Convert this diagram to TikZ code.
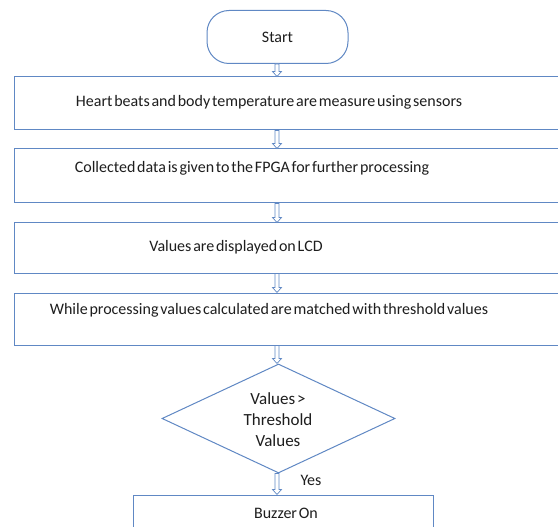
\documentclass[tikz,border=0pt]{standalone}
\usepackage{fontspec}
\setmainfont{Carlito}[WordSpace=0.5]
\usetikzlibrary{shapes.geometric,calc}
\definecolor{edge}{RGB}{96,136,196}
\definecolor{ink}{RGB}{30,30,30}
\tikzset{
  box/.style={draw=edge, line width=1pt, rectangle, inner sep=0pt},
  txt/.style={text=ink, font=\fontsize{16}{20}\selectfont, inner sep=0pt, align=center},
  harrow/.style={draw=edge, line width=0.7pt, fill=white},
}
\newcommand{\hollowarrow}[2]{%
  \path[harrow] let \p1=(#1), \p2=(#2) in
    (\x1-2pt,\y1) -- (\x1+2pt,\y1) -- (\x1+2pt,\y2+5pt) -- (\x1+4.5pt,\y2+5pt)
    -- (\x1,\y2) -- (\x1-4.5pt,\y2+5pt) -- (\x1-2pt,\y2+5pt) -- cycle;}
\begin{document}
\begin{tikzpicture}[x=1pt,y=-1pt]
  \useasboundingbox (0,0) rectangle (558,527);
  \clip (0,0) rectangle (558,527);
  \fill[white] (0,0) rectangle (558,527);
  \coordinate (spine) at (277,0);
  % nodes
  \node[box, txt, rounded corners=22pt, minimum width=141pt, minimum height=53pt] (start) at (277.5,37) {Start};
  \node[box, minimum width=566pt, minimum height=53pt] (b1) at (297,103.5) {};
  \node[txt] (t1) at (269,102) {Heart beats and body temperature are measure using sensors};
  \node[box, minimum width=566pt, minimum height=54pt] (b2) at (297,176) {};
  \node[txt] (t2) at (252,168) {Collected data is given to the FPGA for further processing};
  \node[box, minimum width=566pt, minimum height=50pt] (b3) at (297,248) {};
  \node[txt] (t3) at (236,247) {Values are displayed on LCD};
  \node[box, minimum width=566pt, minimum height=52pt] (b4) at (297,319) {};
  \node[txt] (t4) at (269,310) {While processing values calculated are matched with threshold values};
  \node[box, diamond, aspect=2.14, minimum width=233pt, minimum height=109pt] (d) at (278.5,418.5) {};
  \node[txt, font=\fontsize{17}{21}\selectfont] (dt) at (278,419.5) {Values >\\Threshold\\Values};
  \node[txt] (yes) at (311,480) {Yes};
  \node[box, minimum width=300pt, minimum height=60pt] (buz) at (283,525) {};
  \node[txt] (tbuz) at (286,513) {Buzzer On};
  % connectors
  \hollowarrow{start.south -| spine}{b1.north -| spine}
  \hollowarrow{b1.south -| spine}{b2.north -| spine}
  \hollowarrow{b2.south -| spine}{b3.north -| spine}
  \hollowarrow{b3.south -| spine}{b4.north -| spine}
  \hollowarrow{b4.south -| spine}{d.north -| spine}
  \hollowarrow{d.south -| spine}{buz.north -| spine}
\end{tikzpicture}
\end{document}
